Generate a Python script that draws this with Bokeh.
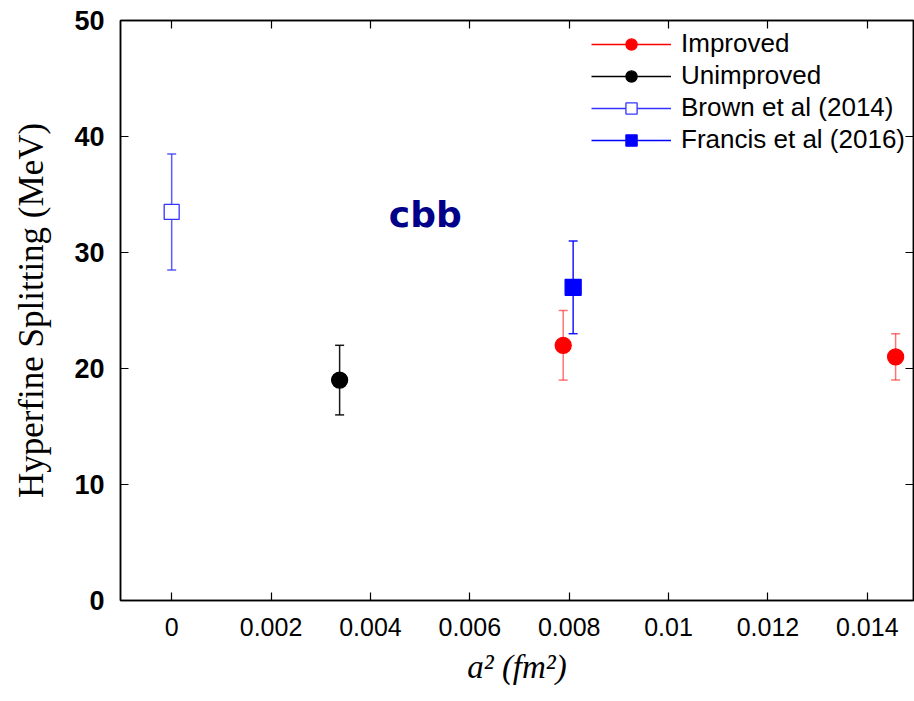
from bokeh.plotting import figure
from bokeh.models import (ColumnDataSource, Whisker, TeeHead, LinearAxis, FixedTicker,
                          Legend, LegendItem, Label, Range1d)
from bokeh.embed import file_html
from bokeh.resources import INLINE

# ---- data ----
improved_x = [0.00788, 0.01457]
improved_y = [22.0, 21.0]
improved_err = [3.0, 2.0]

unimproved_x = [0.00338]
unimproved_y = [19.0]
unimproved_err = [3.0]

brown_x = [0.0]
brown_y = [33.5]
brown_err = [5.0]

francis_x = [0.00808]
francis_y = [27.0]
francis_err = [4.0]

x_ticks = [0, 0.002, 0.004, 0.006, 0.008, 0.010, 0.012, 0.014]
x_tick_labels = ["0", "0.002", "0.004", "0.006", "0.008", "0.01", "0.012", "0.014"]
y_ticks = [0, 10, 20, 30, 40, 50]

annotation_text = "cbb"
annotation_x = 0.00437
annotation_y = 31.5

# ---- figure ----
p = figure(width=914, height=701, output_backend="svg", toolbar_location=None,
           x_range=Range1d(-0.00103, 0.01493), y_range=Range1d(0, 50),
           min_border_left=120, min_border_right=1, min_border_top=20, min_border_bottom=101)
p.grid.visible = False
p.outline_line_color = "black"
p.outline_line_width = 1.5
p.background_fill_color = "white"
p.border_fill_color = "white"

p.xaxis.ticker = FixedTicker(ticks=x_ticks)
p.xaxis.major_label_overrides = {t: l for t, l in zip(x_ticks, x_tick_labels)}
p.yaxis.ticker = FixedTicker(ticks=y_ticks)

for ax in (p.xaxis[0], p.yaxis[0]):
    ax.major_tick_in = 8
    ax.major_tick_out = 0
    ax.minor_tick_line_color = None
    ax.axis_line_width = 1.5
    ax.axis_line_color = "black"
    ax.major_tick_line_color = "black"
    ax.major_tick_line_width = 1.2
    ax.major_label_text_color = "black"
    ax.axis_label_text_color = "black"

p.xaxis.major_label_text_font = "Liberation Sans"
p.xaxis.major_label_text_font_size = "25px"
p.xaxis.major_label_standoff = 17
p.yaxis.major_label_text_font = "Liberation Sans"
p.yaxis.major_label_text_font_size = "27px"
p.yaxis.major_label_text_font_style = "bold"
p.yaxis.major_label_standoff = 16

p.xaxis.axis_label = "a² (fm²)"
p.xaxis.axis_label_text_font = "Liberation Serif"
p.xaxis.axis_label_text_font_style = "italic"
p.xaxis.axis_label_text_font_size = "33px"
p.xaxis.axis_label_standoff = 10

p.yaxis.axis_label = "Hyperfine Splitting (MeV)"
p.yaxis.axis_label_text_font = "Liberation Serif"
p.yaxis.axis_label_text_font_style = "normal"
p.yaxis.axis_label_text_font_size = "35px"
p.yaxis.axis_label_standoff = 20

# mirrored axes (ticks only, empty labels)
for loc, tk in (("above", x_ticks), ("right", y_ticks)):
    ax = LinearAxis(ticker=FixedTicker(ticks=tk), major_tick_in=8, major_tick_out=0,
                    minor_tick_line_color=None, axis_line_width=1.5, major_tick_line_width=1.2,
                    axis_line_color="black", major_tick_line_color="black",
                    major_label_overrides={t: "" for t in tk},
                    major_label_text_alpha=0, major_label_standoff=0)
    p.add_layout(ax, loc)


def series(xs, ys, errs, color, marker, fill, bar_color, bar_alpha, size):
    src = ColumnDataSource(dict(x=xs, y=ys,
                                lo=[y - e for y, e in zip(ys, errs)],
                                hi=[y + e for y, e in zip(ys, errs)]))
    w = Whisker(base="x", lower="lo", upper="hi", source=src, dimension="height",
                line_color=bar_color, line_alpha=bar_alpha, line_width=1.5,
                upper_head=TeeHead(size=9, line_color=bar_color, line_alpha=bar_alpha, line_width=1.5),
                lower_head=TeeHead(size=9, line_color=bar_color, line_alpha=bar_alpha, line_width=1.5))
    p.add_layout(w)
    # single-point line: draws nothing on the plot, only provides the legend's error-bar line
    leg_line = p.line(x=xs[:1], y=ys[:1], line_color=bar_color, line_width=1.5)
    sc = p.scatter("x", "y", source=src, marker=marker, size=size,
                   fill_color=fill, line_color=color, line_width=1.3)
    return [leg_line, sc]


r_imp = series(improved_x, improved_y, improved_err, "#ff0000", "circle", "#ff0000", "#ff0000", 0.55, 16)
r_unimp = series(unimproved_x, unimproved_y, unimproved_err, "#000000", "circle", "#000000", "#000000", 0.9, 16)
r_brown = series(brown_x, brown_y, brown_err, "#3333ff", "square", "white", "#3333ff", 0.8, 15)
r_fran = series(francis_x, francis_y, francis_err, "#0000ff", "square", "#0000ff", "#0000ff", 0.9, 16)

legend = Legend(items=[
    LegendItem(label="Improved", renderers=r_imp),
    LegendItem(label="Unimproved", renderers=r_unimp),
    LegendItem(label="Brown et al (2014)", renderers=r_brown),
    LegendItem(label="Francis et al (2016)", renderers=r_fran),
], location="top_right")
legend.background_fill_alpha = 0
legend.border_line_color = None
legend.label_text_font = "Liberation Sans"
legend.label_text_font_size = "26px"
legend.label_text_color = "black"
legend.glyph_width = 80
legend.glyph_height = 28
legend.label_height = 28
legend.spacing = 1
legend.label_standoff = 10
legend.margin = 8
legend.padding = 2
p.add_layout(legend)

p.add_layout(Label(x=annotation_x, y=annotation_y, text=annotation_text,
                   text_font="DejaVu Sans", text_font_style="bold", text_font_size="36px",
                   text_color="#000088", text_align="left", text_baseline="bottom"))

open("out.html", "w").write(file_html(p, INLINE))
